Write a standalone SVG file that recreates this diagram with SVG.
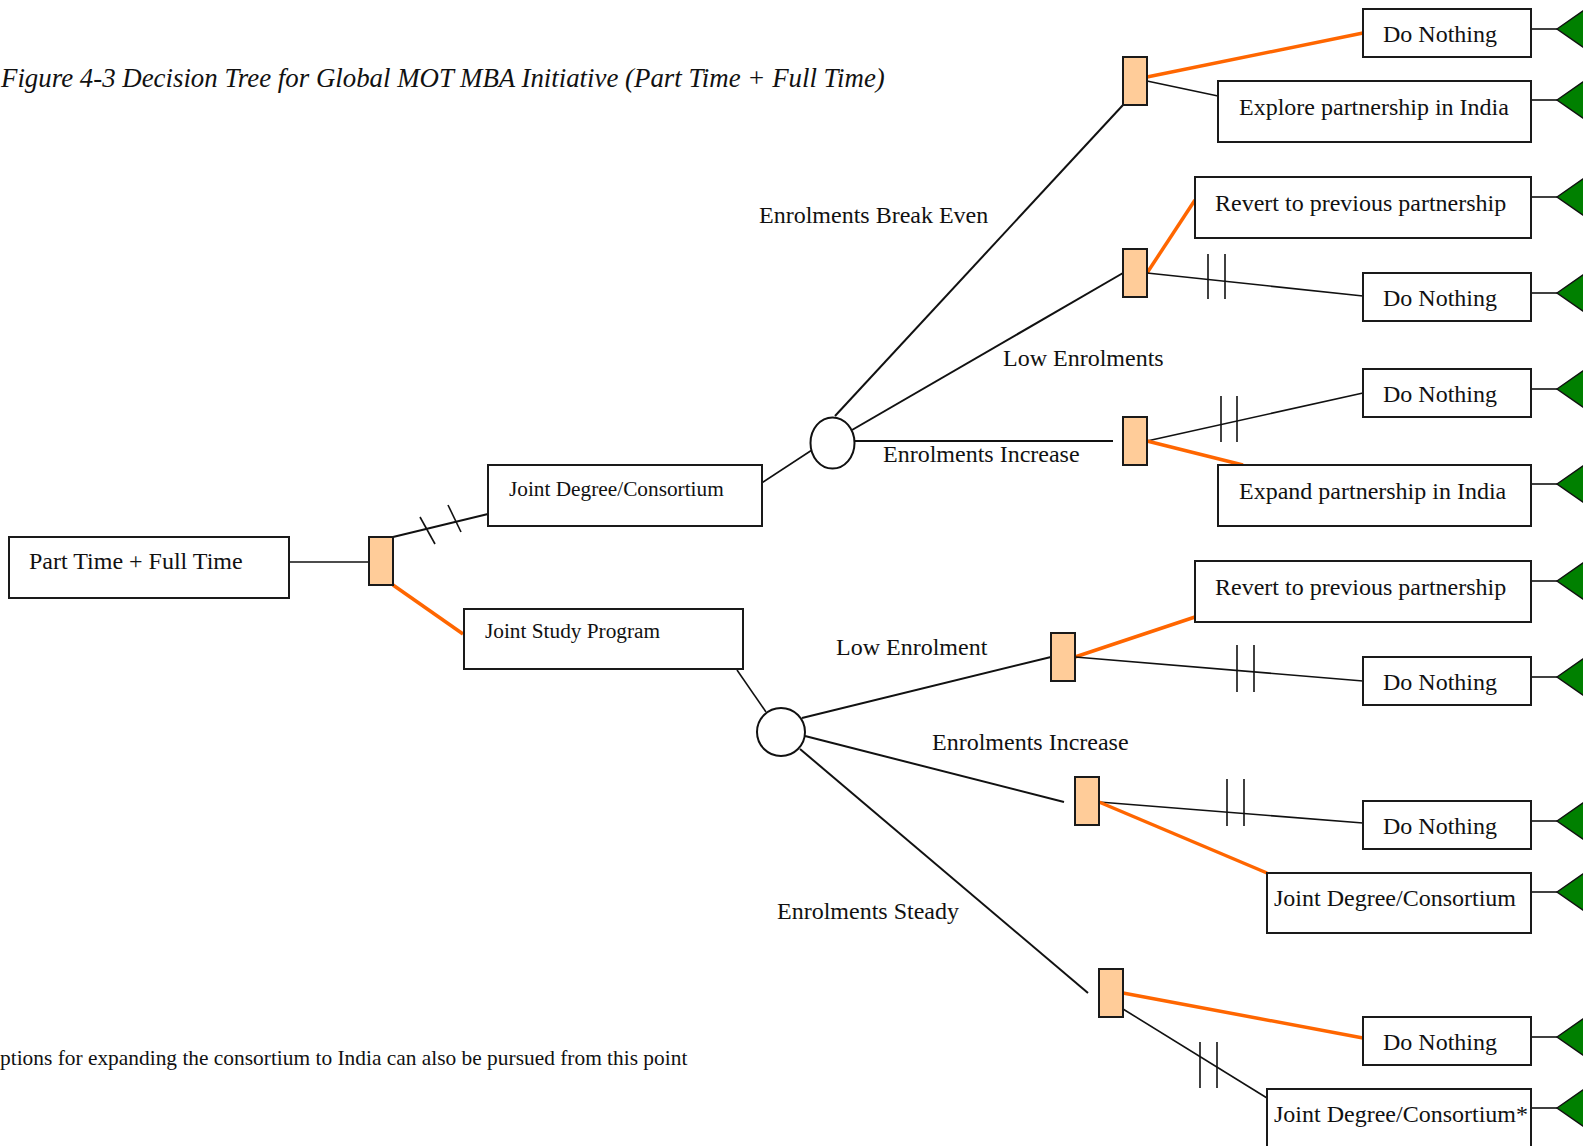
<svg xmlns="http://www.w3.org/2000/svg" width="1583" height="1146" viewBox="0 0 1583 1146">
  <defs>
    <style>
      text { font-family: "Liberation Serif", "Times New Roman", serif; fill: #111; }
      .t24 { font-size: 24px; }
      .t21 { font-size: 21.3px; }
      .note { font-size: 21.4px; }
      .title { font-size: 26.85px; font-style: italic; }
      .box { fill: #fff; stroke: #1a1a1a; stroke-width: 2; }
      .dec { fill: #FFCC99; stroke: #1a1a1a; stroke-width: 2; }
      .chance { fill: #fff; stroke: #111; stroke-width: 2; }
      .end { fill: #008000; stroke: #111; stroke-width: 1.5; }
      .ln { stroke: #111; stroke-width: 2; fill: none; }
      .thin { stroke: #111; stroke-width: 1.6; fill: none; }
      .pick { stroke: #FF6600; stroke-width: 3.5; fill: none; }
      .hash { stroke: #111; stroke-width: 1.6; fill: none; }
    </style>
    <polygon id="endTri" points="0,0 43,-30 43,30"/>
  </defs>

  <rect width="1583" height="1146" fill="#fff"/>

  <text class="title" x="1" y="87">Figure 4-3 Decision Tree for Global MOT MBA Initiative (Part Time + Full Time)</text>
  <text class="note" x="0" y="1065">ptions for expanding the consortium to India can also be pursued from this point</text>

  <!-- connectors -->
  <g id="connectors">
    <line class="thin" x1="273" y1="562" x2="369" y2="562"/>
    <line class="ln" x1="393" y1="537" x2="488" y2="514"/>
    <line class="hash" x1="420" y1="517" x2="435" y2="544"/>
    <line class="hash" x1="448" y1="505" x2="461" y2="532"/>
    <line class="pick" x1="393" y1="585" x2="463" y2="634"/>
    <line class="thin" x1="754" y1="488" x2="812" y2="450"/>
    <line class="thin" x1="737" y1="670" x2="766" y2="712"/>

    <line class="ln" x1="835" y1="416" x2="1123" y2="105"/>
    <line class="ln" x1="852" y1="430" x2="1123" y2="273"/>
    <line class="ln" x1="854" y1="441" x2="1113" y2="441"/>

    <line class="pick" x1="1147" y1="77" x2="1363" y2="33"/>
    <line class="thin" x1="1147" y1="81" x2="1218" y2="96"/>

    <line class="pick" x1="1147" y1="273" x2="1195" y2="200"/>
    <line class="thin" x1="1147" y1="273" x2="1363" y2="296"/>
    <line class="hash" x1="1208" y1="254" x2="1208" y2="299"/>
    <line class="hash" x1="1225" y1="254" x2="1225" y2="299"/>

    <line class="thin" x1="1147" y1="441" x2="1363" y2="393"/>
    <line class="hash" x1="1221" y1="396" x2="1221" y2="442"/>
    <line class="hash" x1="1237" y1="396" x2="1237" y2="442"/>
    <line class="pick" x1="1147" y1="441" x2="1243" y2="465"/>

    <line class="ln" x1="802" y1="718" x2="1051" y2="657"/>
    <line class="pick" x1="1075" y1="657" x2="1195" y2="617"/>
    <line class="thin" x1="1075" y1="657" x2="1363" y2="681"/>
    <line class="hash" x1="1237" y1="645" x2="1237" y2="692"/>
    <line class="hash" x1="1254" y1="645" x2="1254" y2="692"/>

    <line class="ln" x1="805" y1="736" x2="1064" y2="802"/>
    <line class="thin" x1="1099" y1="802" x2="1363" y2="823"/>
    <line class="hash" x1="1227" y1="779" x2="1227" y2="826"/>
    <line class="hash" x1="1244" y1="779" x2="1244" y2="826"/>
    <line class="pick" x1="1099" y1="802" x2="1267" y2="873"/>

    <line class="ln" x1="800" y1="749" x2="1088" y2="993"/>
    <line class="pick" x1="1123" y1="993" x2="1363" y2="1038"/>
    <line class="thin" x1="1123" y1="1009" x2="1267" y2="1098"/>
    <line class="hash" x1="1200" y1="1042" x2="1200" y2="1088"/>
    <line class="hash" x1="1217" y1="1042" x2="1217" y2="1088"/>

    <!-- stubs from outcome boxes to end markers -->
    <line class="thin" x1="1531" y1="29" x2="1557" y2="29"/>
    <line class="thin" x1="1531" y1="100" x2="1557" y2="100"/>
    <line class="thin" x1="1531" y1="197" x2="1557" y2="197"/>
    <line class="thin" x1="1531" y1="293" x2="1557" y2="293"/>
    <line class="thin" x1="1531" y1="389" x2="1557" y2="389"/>
    <line class="thin" x1="1531" y1="484" x2="1557" y2="484"/>
    <line class="thin" x1="1531" y1="581" x2="1557" y2="581"/>
    <line class="thin" x1="1531" y1="677" x2="1557" y2="677"/>
    <line class="thin" x1="1531" y1="821" x2="1557" y2="821"/>
    <line class="thin" x1="1531" y1="892" x2="1557" y2="892"/>
    <line class="thin" x1="1531" y1="1037" x2="1557" y2="1037"/>
    <line class="thin" x1="1531" y1="1108" x2="1557" y2="1108"/>
  </g>

  <!-- end markers -->
  <g id="ends">
    <use href="#endTri" class="end" x="1557" y="29"/>
    <use href="#endTri" class="end" x="1557" y="100"/>
    <use href="#endTri" class="end" x="1557" y="197"/>
    <use href="#endTri" class="end" x="1557" y="293"/>
    <use href="#endTri" class="end" x="1557" y="389"/>
    <use href="#endTri" class="end" x="1557" y="484"/>
    <use href="#endTri" class="end" x="1557" y="581"/>
    <use href="#endTri" class="end" x="1557" y="677"/>
    <use href="#endTri" class="end" x="1557" y="821"/>
    <use href="#endTri" class="end" x="1557" y="892"/>
    <use href="#endTri" class="end" x="1557" y="1037"/>
    <use href="#endTri" class="end" x="1557" y="1108"/>
  </g>

  <!-- branch labels -->
  <g id="labels">
    <text class="t24" x="759" y="223">Enrolments Break Even</text>
    <text class="t24" x="1003" y="366">Low Enrolments</text>
    <text class="t24" x="883" y="462">Enrolments Increase</text>
    <text class="t24" x="836" y="655">Low Enrolment</text>
    <text class="t24" x="932" y="750">Enrolments Increase</text>
    <text class="t24" x="777" y="919">Enrolments Steady</text>
  </g>

  <!-- nodes -->
  <g id="root"><rect class="box" x="9" y="537" width="280" height="61"/><text class="t24" x="29" y="569">Part Time + Full Time</text></g>
  <g id="d-root"><rect class="dec" x="369" y="537" width="24" height="48"/></g>
  <g id="jd-consortium"><rect class="box" x="488" y="465" width="274" height="61"/><text class="t21" x="509" y="496">Joint Degree/Consortium</text></g>
  <g id="jsp"><rect class="box" x="464" y="609" width="279" height="60"/><text class="t21" x="485" y="638">Joint Study Program</text></g>

  <g id="c-consortium"><ellipse class="chance" cx="832.5" cy="443" rx="22" ry="25.5"/></g>
  <g id="c-jsp"><circle class="chance" cx="781" cy="732" r="24"/></g>

  <g id="d-breakeven"><rect class="dec" x="1123" y="57" width="24" height="48"/></g>
  <g id="d-low"><rect class="dec" x="1123" y="249" width="24" height="48"/></g>
  <g id="d-increase"><rect class="dec" x="1123" y="417" width="24" height="48"/></g>
  <g id="d-jsp-low"><rect class="dec" x="1051" y="633" width="24" height="48"/></g>
  <g id="d-jsp-increase"><rect class="dec" x="1075" y="777" width="24" height="48"/></g>
  <g id="d-jsp-steady"><rect class="dec" x="1099" y="969" width="24" height="48"/></g>

  <g id="o1"><rect class="box" x="1363" y="9" width="168" height="48"/><text class="t24" x="1383" y="42">Do Nothing</text></g>
  <g id="o2"><rect class="box" x="1218" y="81" width="313" height="61"/><text class="t24" x="1239" y="115">Explore partnership in India</text></g>
  <g id="o3"><rect class="box" x="1195" y="177" width="336" height="61"/><text class="t24" x="1215" y="211">Revert to previous partnership</text></g>
  <g id="o4"><rect class="box" x="1363" y="273" width="168" height="48"/><text class="t24" x="1383" y="306">Do Nothing</text></g>
  <g id="o5"><rect class="box" x="1363" y="369" width="168" height="48"/><text class="t24" x="1383" y="402">Do Nothing</text></g>
  <g id="o6"><rect class="box" x="1218" y="465" width="313" height="61"/><text class="t24" x="1239" y="499">Expand partnership in India</text></g>
  <g id="o7"><rect class="box" x="1195" y="561" width="336" height="61"/><text class="t24" x="1215" y="595">Revert to previous partnership</text></g>
  <g id="o8"><rect class="box" x="1363" y="657" width="168" height="48"/><text class="t24" x="1383" y="690">Do Nothing</text></g>
  <g id="o9"><rect class="box" x="1363" y="801" width="168" height="48"/><text class="t24" x="1383" y="834">Do Nothing</text></g>
  <g id="o10"><rect class="box" x="1267" y="873" width="264" height="60"/><text class="t24" x="1274" y="906">Joint Degree/Consortium</text></g>
  <g id="o11"><rect class="box" x="1363" y="1017" width="168" height="48"/><text class="t24" x="1383" y="1050">Do Nothing</text></g>
  <g id="o12"><rect class="box" x="1267" y="1089" width="264" height="70"/><text class="t24" x="1274" y="1122">Joint Degree/Consortium*</text></g>
</svg>
